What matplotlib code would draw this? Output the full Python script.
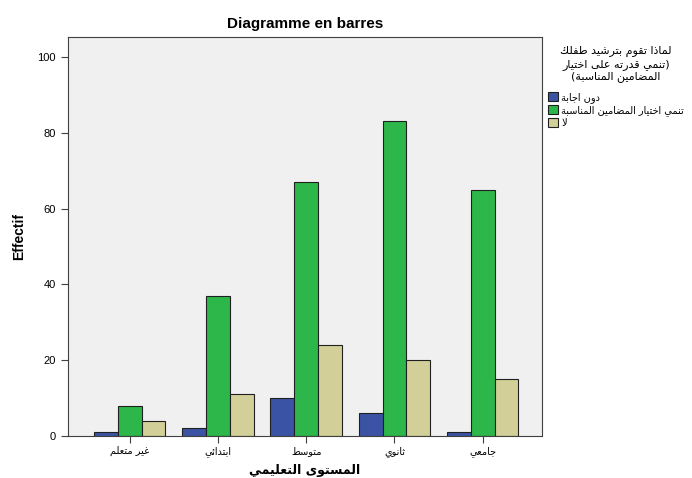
import matplotlib
matplotlib.use("Agg")
import matplotlib.pyplot as plt
import numpy as np

# ---------------- data ----------------
categories = ["غير متعلم", "ابتدائي", "متوسط", "ثانوي", "جامعي"]
series_names = ["دون اجابة", "تنمي اختيار المضامين المناسبة", "لا"]
values_no_answer = [1, 2, 10, 6, 1]
values_develop = [8, 37, 67, 83, 65]
values_no = [4, 11, 24, 20, 15]
y_ticks = [0, 20, 40, 60, 80, 100]
title = "Diagramme en barres"
y_label = "Effectif"
x_label = "المستوى التعليمي"
legend_title_lines = ["لماذا تقوم بترشيد طفلك", "(تنمي قدرته على اختيار", "المضامين المناسبة)"]

colors = ["#3b53a4", "#2db74a", "#d3cf99"]

# ---------------- minimal Arabic shaping ----------------
FORMS = {
    '\u0627': (0xFE8D, 0xFE8E, None, None),
    '\u0628': (0xFE8F, 0xFE90, 0xFE91, 0xFE92),
    '\u0629': (0xFE93, 0xFE94, None, None),
    '\u062A': (0xFE95, 0xFE96, 0xFE97, 0xFE98),
    '\u062B': (0xFE99, 0xFE9A, 0xFE9B, 0xFE9C),
    '\u062C': (0xFE9D, 0xFE9E, 0xFE9F, 0xFEA0),
    '\u062D': (0xFEA1, 0xFEA2, 0xFEA3, 0xFEA4),
    '\u062E': (0xFEA5, 0xFEA6, 0xFEA7, 0xFEA8),
    '\u062F': (0xFEA9, 0xFEAA, None, None),
    '\u0630': (0xFEAB, 0xFEAC, None, None),
    '\u0631': (0xFEAD, 0xFEAE, None, None),
    '\u0632': (0xFEAF, 0xFEB0, None, None),
    '\u0633': (0xFEB1, 0xFEB2, 0xFEB3, 0xFEB4),
    '\u0634': (0xFEB5, 0xFEB6, 0xFEB7, 0xFEB8),
    '\u0635': (0xFEB9, 0xFEBA, 0xFEBB, 0xFEBC),
    '\u0636': (0xFEBD, 0xFEBE, 0xFEBF, 0xFEC0),
    '\u0637': (0xFEC1, 0xFEC2, 0xFEC3, 0xFEC4),
    '\u0638': (0xFEC5, 0xFEC6, 0xFEC7, 0xFEC8),
    '\u0639': (0xFEC9, 0xFECA, 0xFECB, 0xFECC),
    '\u063A': (0xFECD, 0xFECE, 0xFECF, 0xFED0),
    '\u0641': (0xFED1, 0xFED2, 0xFED3, 0xFED4),
    '\u0642': (0xFED5, 0xFED6, 0xFED7, 0xFED8),
    '\u0643': (0xFED9, 0xFEDA, 0xFEDB, 0xFEDC),
    '\u0644': (0xFEDD, 0xFEDE, 0xFEDF, 0xFEE0),
    '\u0645': (0xFEE1, 0xFEE2, 0xFEE3, 0xFEE4),
    '\u0646': (0xFEE5, 0xFEE6, 0xFEE7, 0xFEE8),
    '\u0647': (0xFEE9, 0xFEEA, 0xFEEB, 0xFEEC),
    '\u0648': (0xFEED, 0xFEEE, None, None),
    '\u0649': (0xFEEF, 0xFEF0, None, None),
    '\u064A': (0xFEF1, 0xFEF2, 0xFEF3, 0xFEF4),
    '\u0626': (0xFE89, 0xFE8A, 0xFE8B, 0xFE8C),
}


def joins_next(ch):
    return ch in FORMS and FORMS[ch][2] is not None


def shape(text):
    out = []
    chars = list(text)
    i = 0
    n = len(chars)
    while i < n:
        c = chars[i]
        if c not in FORMS:
            out.append(c)
            i += 1
            continue
        prev = chars[i - 1] if i > 0 else None
        nxt = chars[i + 1] if i + 1 < n else None
        con_prev = prev is not None and joins_next(prev)
        if c == '\u0644' and nxt == '\u0627':
            out.append(chr(0xFEFC if con_prev else 0xFEFB))
            i += 2
            continue
        con_next = joins_next(c) and nxt is not None and nxt in FORMS
        iso, fin, ini, med = FORMS[c]
        if con_prev and con_next:
            out.append(chr(med))
        elif con_prev:
            out.append(chr(fin))
        elif con_next:
            out.append(chr(ini))
        else:
            out.append(chr(iso))
        i += 1
    vis = "".join(out)[::-1]
    mirror = {"(": ")", ")": "("}
    return "".join(mirror.get(ch, ch) for ch in vis)


# ---------------- plot ----------------
plt.rcParams['font.family'] = ['Liberation Sans', 'DejaVu Sans']

fig = plt.figure(figsize=(6.92, 4.78), dpi=100)
fig.patch.set_facecolor("white")
ax = fig.add_axes([0.098, 0.088, 0.685, 0.835])
ax.set_facecolor("#f0f0f0")

x = np.arange(len(categories))
w = 0.27
series = [values_no_answer, values_develop, values_no]
for k, (vals, col, name) in enumerate(zip(series, colors, series_names)):
    ax.bar(x + (k - 1) * w, vals, width=w, color=col, edgecolor="#202020",
           linewidth=0.8, label=shape(name), zorder=2)

ax.set_xlim(-0.7, 4.67)
ax.set_ylim(0, 105.3)
ax.set_yticks(y_ticks)
ax.set_yticklabels([str(t) for t in y_ticks], fontsize=8)
ax.set_xticks(x)
ax.set_xticklabels([shape(c) for c in categories], fontsize=7,
                   family=['DejaVu Sans'])
ax.tick_params(axis='both', direction='out', length=5, width=0.8, color="#404040")
ax.tick_params(axis='x', pad=2)
for s in ax.spines.values():
    s.set_color("#404040")
    s.set_linewidth(0.8)

ax.set_title(title, fontsize=11, fontweight="bold", pad=6)
ax.set_ylabel(y_label, fontsize=10, fontweight="bold", labelpad=8)
ax.set_xlabel(shape(x_label), fontsize=9, fontweight="bold",
              family=['DejaVu Sans'], labelpad=5)

leg = fig.legend(loc="upper left", bbox_to_anchor=(0.786, 0.912),
                 title="\n".join(shape(l) for l in legend_title_lines),
                 frameon=False, handlelength=1.1, handleheight=1.1,
                 handletextpad=0.3, labelspacing=0.2, borderaxespad=0,
                 alignment="center",
                 prop={'family': ['DejaVu Sans'], 'size': 7},
                 title_fontproperties={'family': ['DejaVu Sans'], 'size': 8})
leg.get_title().set_multialignment('center')
leg.get_title().set_linespacing(1.2)
leg._legend_box.sep = 7

fig.savefig("out.png", dpi=100, facecolor="white")
